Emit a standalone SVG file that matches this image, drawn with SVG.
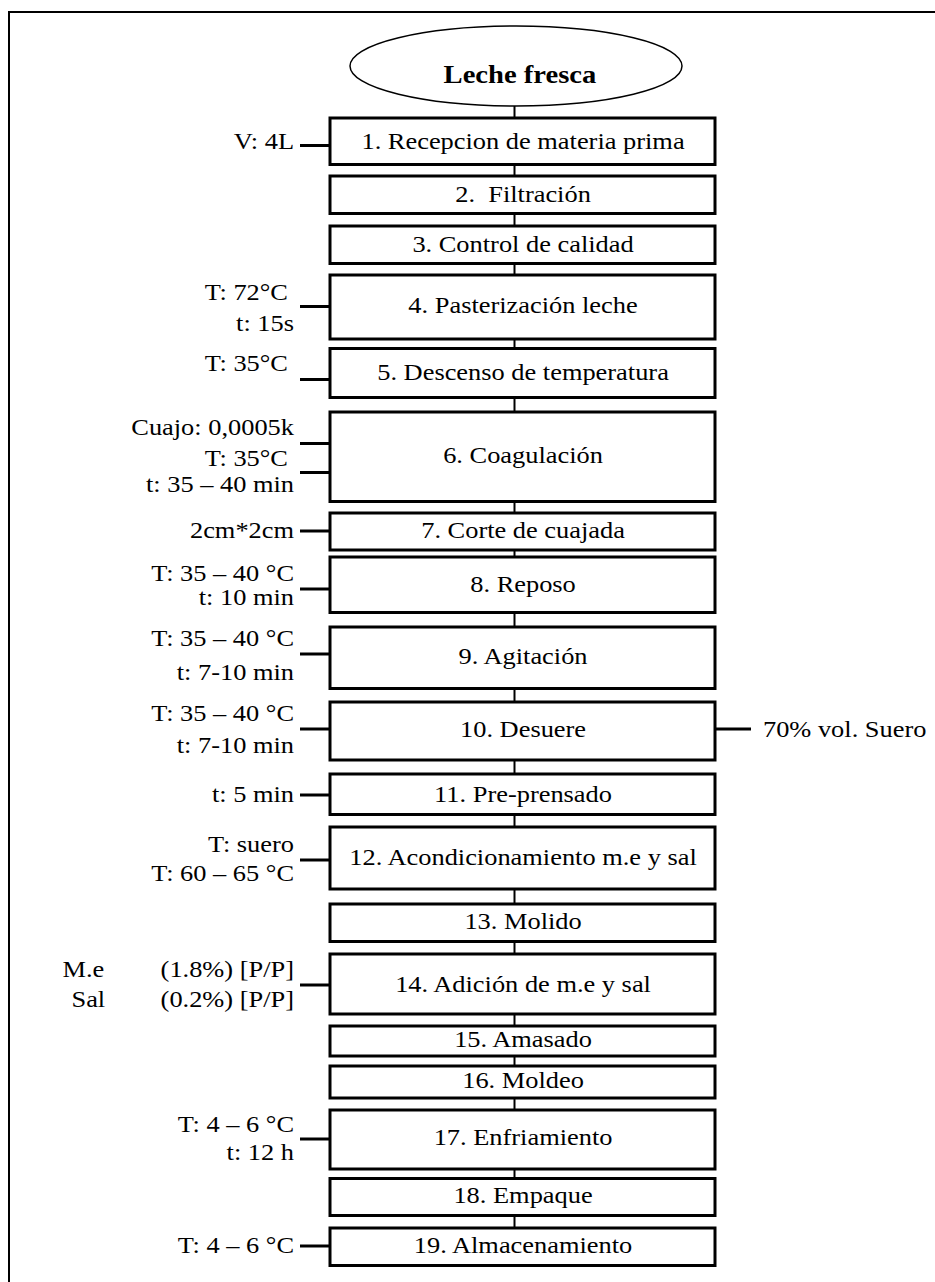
<svg xmlns="http://www.w3.org/2000/svg" width="935" height="1282" viewBox="0 0 935 1282">
<style>
text{font-family:"Liberation Serif","Times New Roman",serif;font-size:24px;fill:#000}
.c{text-anchor:middle}
.r{text-anchor:end}
.b{fill:#fff;stroke:#000;stroke-width:3}
.ln{stroke:#000;stroke-width:2;fill:none}
.tk{stroke:#000;stroke-width:3;fill:none}
</style>
<rect width="935" height="1282" fill="#fff"/>
<path d="M9 1282V12H935" fill="none" stroke="#000" stroke-width="2"/>
<g id="connectors">
<line class="ln" x1="514.5" y1="106" x2="514.5" y2="118"/>
<line class="ln" x1="514.5" y1="164.5" x2="514.5" y2="176"/>
<line class="ln" x1="514.5" y1="213.5" x2="514.5" y2="226"/>
<line class="ln" x1="514.5" y1="263.5" x2="514.5" y2="275"/>
<line class="ln" x1="514.5" y1="339" x2="514.5" y2="348.5"/>
<line class="ln" x1="514.5" y1="397.5" x2="514.5" y2="412"/>
<line class="ln" x1="514.5" y1="501.5" x2="514.5" y2="513"/>
<line class="ln" x1="514.5" y1="550" x2="514.5" y2="557"/>
<line class="ln" x1="514.5" y1="612.5" x2="514.5" y2="627"/>
<line class="ln" x1="514.5" y1="688.5" x2="514.5" y2="702"/>
<line class="ln" x1="514.5" y1="760" x2="514.5" y2="774"/>
<line class="ln" x1="514.5" y1="814.5" x2="514.5" y2="827"/>
<line class="ln" x1="514.5" y1="889" x2="514.5" y2="904"/>
<line class="ln" x1="514.5" y1="941.5" x2="514.5" y2="954"/>
<line class="ln" x1="514.5" y1="1014" x2="514.5" y2="1026"/>
<line class="ln" x1="514.5" y1="1056" x2="514.5" y2="1066"/>
<line class="ln" x1="514.5" y1="1098" x2="514.5" y2="1110"/>
<line class="ln" x1="514.5" y1="1169" x2="514.5" y2="1178.5"/>
<line class="ln" x1="514.5" y1="1215.5" x2="514.5" y2="1228"/>
<line class="tk" x1="300" y1="145.5" x2="330" y2="145.5"/>
<line class="tk" x1="300" y1="306.5" x2="330" y2="306.5"/>
<line class="tk" x1="300" y1="379.5" x2="330" y2="379.5"/>
<line class="tk" x1="300" y1="443.5" x2="330" y2="443.5"/>
<line class="tk" x1="300" y1="472.5" x2="330" y2="472.5"/>
<line class="tk" x1="300" y1="531" x2="330" y2="531"/>
<line class="tk" x1="300" y1="589" x2="330" y2="589"/>
<line class="tk" x1="300" y1="654" x2="330" y2="654"/>
<line class="tk" x1="300" y1="729" x2="330" y2="729"/>
<line class="tk" x1="715" y1="729" x2="751" y2="729"/>
<line class="tk" x1="300" y1="795" x2="330" y2="795"/>
<line class="tk" x1="300" y1="860" x2="330" y2="860"/>
<line class="tk" x1="300" y1="985" x2="330" y2="985"/>
<line class="tk" x1="300" y1="1139" x2="330" y2="1139"/>
<line class="tk" x1="300" y1="1246" x2="330" y2="1246"/>
</g>
<g id="start">
<ellipse cx="516" cy="66" rx="166" ry="40" fill="#fff" stroke="#000" stroke-width="1.5"/>
<text class="c" transform="scale(1.1 1)" x="472.7" y="83" style="font-weight:bold;font-size:26px">Leche fresca</text>
</g>
<g id="n1"><rect class="b" x="330" y="118" width="385" height="46.5"/><text class="c" transform="scale(1.1 1)" x="475.5" y="149">1. Recepcion de materia prima</text><text class="r" transform="scale(1.1 1)" x="267.3" y="149">V: 4L</text></g>
<g id="n2"><rect class="b" x="330" y="176" width="385" height="37.5"/><text class="c" transform="scale(1.1 1)" x="475.5" y="202" style="white-space:pre">2.  Filtración</text></g>
<g id="n3"><rect class="b" x="330" y="226" width="385" height="37.5"/><text class="c" transform="scale(1.1 1)" x="475.5" y="252">3. Control de calidad</text></g>
<g id="n4"><rect class="b" x="330" y="275" width="385" height="64"/><text class="c" transform="scale(1.1 1)" x="475.5" y="313.5">4. Pasterización leche</text><text class="r" transform="scale(1.1 1)" x="261.8" y="300">T: 72°C</text><text class="r" transform="scale(1.1 1)" x="267.3" y="331.5">t: 15s</text></g>
<g id="n5"><rect class="b" x="330" y="348.5" width="385" height="49"/><text class="c" transform="scale(1.1 1)" x="475.5" y="380.5">5. Descenso de temperatura</text><text class="r" transform="scale(1.1 1)" x="261.8" y="371.5">T: 35°C</text></g>
<g id="n6"><rect class="b" x="330" y="412" width="385" height="89.5"/><text class="c" transform="scale(1.1 1)" x="475.5" y="463.5">6. Coagulación</text><text class="r" transform="scale(1.1 1)" x="267.3" y="435">Cuajo: 0,0005k</text><text class="r" transform="scale(1.1 1)" x="261.8" y="466.5">T: 35°C</text><text class="r" transform="scale(1.1 1)" x="267.3" y="492.5">t: 35 – 40 min</text></g>
<g id="n7"><rect class="b" x="330" y="513" width="385" height="37"/><text class="c" transform="scale(1.1 1)" x="475.5" y="538.5">7. Corte de cuajada</text><text class="r" transform="scale(1.1 1)" x="267.3" y="538.5">2cm*2cm</text></g>
<g id="n8"><rect class="b" x="330" y="557" width="385" height="55.5"/><text class="c" transform="scale(1.1 1)" x="475.5" y="592">8. Reposo</text><text class="r" transform="scale(1.1 1)" x="267.3" y="581">T: 35 – 40 °C</text><text class="r" transform="scale(1.1 1)" x="267.3" y="605">t: 10 min</text></g>
<g id="n9"><rect class="b" x="330" y="627" width="385" height="61.5"/><text class="c" transform="scale(1.1 1)" x="475.5" y="664">9. Agitación</text><text class="r" transform="scale(1.1 1)" x="267.3" y="646">T: 35 – 40 °C</text><text class="r" transform="scale(1.1 1)" x="267.3" y="680.5">t: 7-10 min</text></g>
<g id="n10"><rect class="b" x="330" y="702" width="385" height="58"/><text class="c" transform="scale(1.1 1)" x="475.5" y="737.5">10. Desuere</text><text class="r" transform="scale(1.1 1)" x="267.3" y="721">T: 35 – 40 °C</text><text class="r" transform="scale(1.1 1)" x="267.3" y="753.5">t: 7-10 min</text><text transform="scale(1.1 1)" x="693.6" y="737.5">70% vol. Suero</text></g>
<g id="n11"><rect class="b" x="330" y="774" width="385" height="40.5"/><text class="c" transform="scale(1.1 1)" x="475.5" y="802">11. Pre-prensado</text><text class="r" transform="scale(1.1 1)" x="267.3" y="802">t: 5 min</text></g>
<g id="n12"><rect class="b" x="330" y="827" width="385" height="62"/><text class="c" transform="scale(1.1 1)" x="475.5" y="865">12. Acondicionamiento m.e y sal</text><text class="r" transform="scale(1.1 1)" x="267.3" y="852.5">T: suero</text><text class="r" transform="scale(1.1 1)" x="267.3" y="881">T: 60 – 65 °C</text></g>
<g id="n13"><rect class="b" x="330" y="904" width="385" height="37.5"/><text class="c" transform="scale(1.1 1)" x="475.5" y="929.5">13. Molido</text></g>
<g id="n14"><rect class="b" x="330" y="954" width="385" height="60"/><text class="c" transform="scale(1.1 1)" x="475.5" y="992">14. Adición de m.e y sal</text><text transform="scale(1.1 1)" x="56.8" y="977.5">M.e</text><text class="r" transform="scale(1.1 1)" x="267.3" y="977.5">(1.8%) [P/P]</text><text transform="scale(1.1 1)" x="65" y="1007">Sal</text><text class="r" transform="scale(1.1 1)" x="267.3" y="1007">(0.2%) [P/P]</text></g>
<g id="n15"><rect class="b" x="330" y="1026" width="385" height="30"/><text class="c" transform="scale(1.1 1)" x="475.5" y="1047.5">15. Amasado</text></g>
<g id="n16"><rect class="b" x="330" y="1066" width="385" height="32"/><text class="c" transform="scale(1.1 1)" x="475.5" y="1088.5">16. Moldeo</text></g>
<g id="n17"><rect class="b" x="330" y="1110" width="385" height="59"/><text class="c" transform="scale(1.1 1)" x="475.5" y="1145">17. Enfriamiento</text><text class="r" transform="scale(1.1 1)" x="267.3" y="1132">T: 4 – 6 °C</text><text class="r" transform="scale(1.1 1)" x="267.3" y="1160">t: 12 h</text></g>
<g id="n18"><rect class="b" x="330" y="1178.5" width="385" height="37"/><text class="c" transform="scale(1.1 1)" x="475.5" y="1203.5">18. Empaque</text></g>
<g id="n19"><rect class="b" x="330" y="1228" width="385" height="37.5"/><text class="c" transform="scale(1.1 1)" x="475.5" y="1253.5">19. Almacenamiento</text><text class="r" transform="scale(1.1 1)" x="267.3" y="1253.5">T: 4 – 6 °C</text></g>
</svg>
